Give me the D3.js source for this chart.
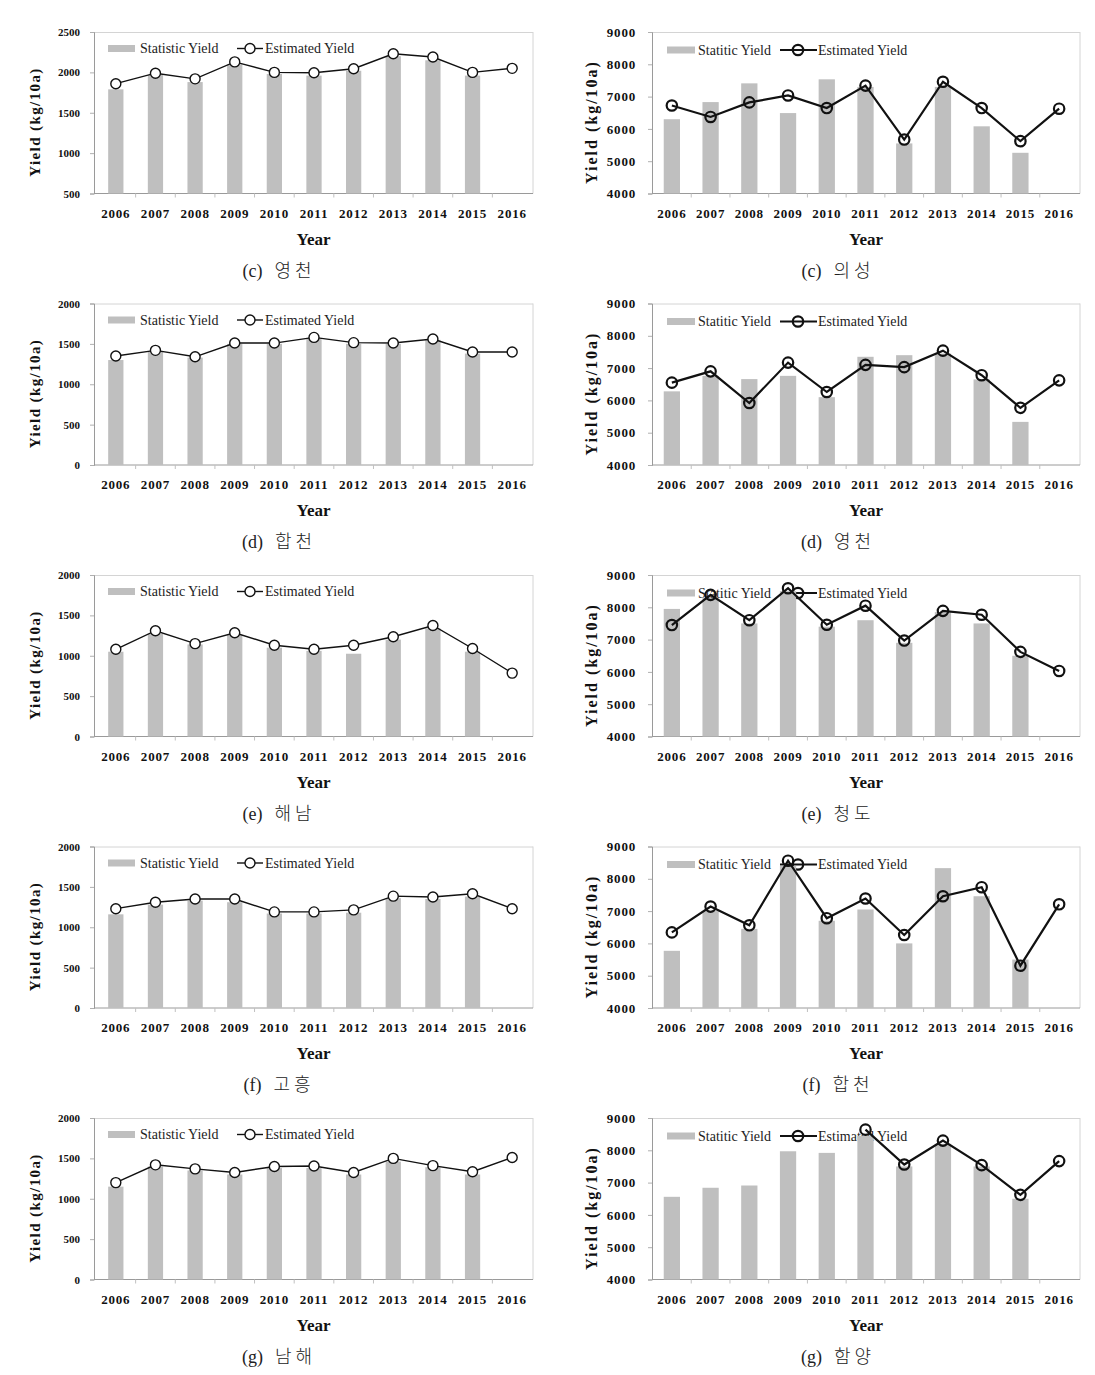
<!DOCTYPE html>
<html><head><meta charset="utf-8">
<script src="https://cdn.jsdelivr.net/npm/d3@7"></script>
<style>body{margin:0;background:#fff}</style>
</head><body>
<svg id="chart" width="1095" height="1375"></svg>
<script>
// ---------- data ----------
const years = ["2006","2007","2008","2009","2010","2011","2012","2013","2014","2015","2016"];

const ticksLeftTop = [500, 1000, 1500, 2000, 2500];
const ticksLeft = [0, 500, 1000, 1500, 2000];
const ticksRight = [4000, 5000, 6000, 7000, 8000, 9000];

const statC_Yeongcheon = [1790, 1970, 1880, 2100, 1980, 1960, 2020, 2200, 2150, 1960, null];
const estC_Yeongcheon  = [1860, 1990, 1920, 2130, 2000, 1995, 2045, 2230, 2190, 2000, 2050];
const statC_Uiseong = [6300, 6830, 7410, 6490, 7535, 7300, 5550, 7300, 6080, 5260, null];
const estC_Uiseong  = [6725, 6370, 6820, 7035, 6645, 7340, 5670, 7460, 6645, 5620, 6625];
const statD_Hapcheon = [1300, 1400, 1330, 1500, 1500, 1560, 1500, 1500, 1550, 1380, null];
const estD_Hapcheon  = [1350, 1420, 1340, 1510, 1510, 1580, 1515, 1510, 1560, 1400, 1400];
const statD_Yeongcheon = [6280, 6760, 6660, 6760, 6100, 7350, 7400, 7450, 6650, 5335, null];
const estD_Yeongcheon  = [6550, 6900, 5920, 7170, 6260, 7100, 7030, 7540, 6780, 5770, 6620];
const statE_Haenam = [1050, 1270, 1140, 1260, 1100, 1060, 1025, 1200, 1340, 1050, null];
const estE_Haenam  = [1080, 1310, 1150, 1285, 1130, 1080, 1130, 1235, 1375, 1090, 785];
const statE_Cheongdo = [7950, 8300, 7500, 8500, 7400, 7600, 6900, 7850, 7500, 6500, null];
const estE_Cheongdo  = [7450, 8385, 7600, 8590, 7460, 8050, 6970, 7890, 7770, 6620, 6030];
const statF_Goheung = [1160, 1280, 1330, 1310, 1170, 1170, 1180, 1360, 1350, 1380, null];
const estF_Goheung  = [1230, 1310, 1350, 1350, 1190, 1190, 1215, 1385, 1375, 1415, 1230];
const statF_Hapcheon = [5770, 7000, 6450, 8400, 6700, 7050, 6000, 8330, 7460, 5500, null];
const estF_Hapcheon  = [6340, 7140, 6560, 8560, 6780, 7390, 6260, 7460, 7740, 5310, 7210];
const statG_Namhae = [1150, 1400, 1350, 1300, 1380, 1380, 1300, 1460, 1390, 1300, null];
const estG_Namhae  = [1200, 1420, 1370, 1325, 1400, 1405, 1325, 1500, 1410, 1335, 1510];
const statG_Hamyang = [6560, 6840, 6910, 7970, 7920, 8450, 7500, 8200, 7500, 6500, null];
const estG_Hamyang  = [null, null, null, null, null, 8640, 7560, 8300, 7540, 6620, 7665];

const captionLetters = ["(c)", "(c)", "(d)", "(d)", "(e)", "(e)", "(f)", "(f)", "(g)", "(g)"];
const captionNames = ["영천", "의성", "합천", "영천", "해남", "청도", "고흥", "합천", "남해", "함양"];
const legendStatLeft = "Statistic Yield";
const legendStatRight = "Statitic Yield";
const legendEst = "Estimated Yield";
const yTitleLeft = "Yield  (kg/10a)";
const yTitleRight = "Yield (kg/10a)";
const xTitle = "Year";

// ---------- panels ----------
const series = [
  [statC_Yeongcheon, estC_Yeongcheon, ticksLeftTop],
  [statC_Uiseong,    estC_Uiseong,    ticksRight],
  [statD_Hapcheon,   estD_Hapcheon,   ticksLeft],
  [statD_Yeongcheon, estD_Yeongcheon, ticksRight],
  [statE_Haenam,     estE_Haenam,     ticksLeft],
  [statE_Cheongdo,   estE_Cheongdo,   ticksRight],
  [statF_Goheung,    estF_Goheung,    ticksLeft],
  [statF_Hapcheon,   estF_Hapcheon,   ticksRight],
  [statG_Namhae,     estG_Namhae,     ticksLeft],
  [statG_Hamyang,    estG_Hamyang,    ticksRight]
];
const panels = series.map((s, i) => ({row: Math.floor(i/2), col: i%2, stat: s[0], est: s[1], ticks: s[2],
  capL: captionLetters[i], capN: captionNames[i]}));

const colStyle = [
  {axisX:94, right:533, b0:96, b1:532, barRatio:0.385, tickFont:11, tickLs:0, tickPad:10,
   yTitle:yTitleLeft, yTitleX:34.5, yTitleFont:15, yTitleLs:1.4,
   leg:{rx:108, rw:27, tx:140, lx1:237, lx2:263, cx:250, ex:265, dy:16.5, label:legendStatLeft},
   fill:"#fff", lw:1.4, r:5, capX:279},
  {axisX:652, right:1080, b0:652.5, b1:1078.5, barRatio:0.42, tickFont:13, tickLs:0.8, tickPad:12,
   yTitle:yTitleRight, yTitleX:591, yTitleFont:16, yTitleLs:2,
   leg:{rx:667, rw:28, tx:698, lx1:780, lx2:817, cx:798, ex:818, dy:18, label:legendStatRight},
   fill:"none", lw:2.2, r:5.2, capX:838}
];

const serif = "'Liberation Serif','Times New Roman',serif";
const svg = d3.select("#chart");
svg.append("rect").attr("width",1095).attr("height",1375).attr("fill","#fff");

panels.forEach(p => {
  const c = colStyle[p.col];
  const top = 32 + p.row * 271.5;
  const bottom = top + 161.5;
  const g = svg.append("g");

  const x = d3.scaleBand().domain(years).range([c.b0, c.b1]).paddingInner(0).paddingOuter(0);
  const y = d3.scaleLinear().domain([p.ticks[0], p.ticks[p.ticks.length-1]]).range([bottom, top]);

  // frame
  g.append("line").attr("x1",c.axisX).attr("x2",c.right).attr("y1",top+0.5).attr("y2",top+0.5)
    .attr("stroke","#d4d4d4").attr("stroke-width",1);
  g.append("line").attr("x1",c.right).attr("x2",c.right).attr("y1",top).attr("y2",bottom)
    .attr("stroke","#d4d4d4").attr("stroke-width",1);

  // y axis
  const ya = g.append("g").attr("transform",`translate(${c.axisX},0)`)
    .call(d3.axisLeft(y).tickValues(p.ticks).tickSize(4).tickPadding(c.tickPad).tickFormat(d3.format("d")));
  ya.select(".domain").attr("stroke","#9a9a9a");
  ya.selectAll(".tick line").attr("stroke","#b0b0b0");
  ya.selectAll("text").attr("font-family",serif).attr("font-weight","bold")
    .attr("font-size",c.tickFont).attr("letter-spacing",c.tickLs).attr("fill","#111");

  // x axis
  const xa = g.append("g").attr("transform",`translate(0,${bottom})`)
    .call(d3.axisBottom(x).tickSize(0).tickPadding(15));
  xa.select(".domain").remove();
  xa.selectAll("text").attr("font-family",serif).attr("font-weight","bold")
    .attr("font-size",13).attr("letter-spacing",0.8).attr("fill","#111");
  g.append("line").attr("x1",c.axisX).attr("x2",c.right).attr("y1",bottom).attr("y2",bottom)
    .attr("stroke","#9a9a9a");
  g.selectAll(".btick").data(years.slice(1)).enter().append("line")
    .attr("x1",d=>x(d)).attr("x2",d=>x(d)).attr("y1",bottom).attr("y2",bottom+4)
    .attr("stroke","#c0c0c0");

  // titles
  g.append("text").attr("x",(c.axisX+c.right)/2).attr("y",bottom+51)
    .attr("text-anchor","middle").attr("font-family",serif).attr("font-weight","bold")
    .attr("font-size",17).attr("fill","#111").text(xTitle);
  g.append("text").attr("transform",`translate(${c.yTitleX},${top+90}) rotate(-90)`)
    .attr("dy","0.35em").attr("text-anchor","middle").attr("font-family",serif)
    .attr("font-weight","bold").attr("font-size",c.yTitleFont).attr("letter-spacing",c.yTitleLs)
    .attr("fill","#111").text(c.yTitle);
  const cap = g.append("text").attr("x",c.capX).attr("y",bottom+83).attr("text-anchor","middle")
    .attr("font-size",18).attr("fill","#222");
  cap.append("tspan").attr("font-family",serif).text(p.capL);
  cap.append("tspan").attr("dx",12).attr("font-family","'Noto Sans CJK KR',sans-serif")
    .attr("font-weight",300).attr("letter-spacing",4).text(p.capN);

  // legend
  const L = c.leg, ly = top + L.dy;
  g.append("rect").attr("x",L.rx).attr("y",ly-3.5).attr("width",L.rw).attr("height",7).attr("fill","#bfbfbf");
  g.append("text").attr("x",L.tx).attr("y",ly).attr("dy","0.33em").attr("font-family",serif)
    .attr("font-size",14).attr("fill","#222").text(L.label);
  g.append("line").attr("x1",L.lx1).attr("x2",L.lx2).attr("y1",ly).attr("y2",ly)
    .attr("stroke","#111").attr("stroke-width",c.lw);
  g.append("circle").attr("cx",L.cx).attr("cy",ly).attr("r",c.r).attr("fill",c.fill)
    .attr("stroke","#111").attr("stroke-width",c.lw);
  g.append("text").attr("x",L.ex).attr("y",ly).attr("dy","0.33em").attr("font-family",serif)
    .attr("font-size",14).attr("fill","#222").text(legendEst);

  // bars
  const bw = x.bandwidth() * c.barRatio;
  const statData = years.map((yr,i)=>({yr, v:p.stat[i]})).filter(d=>d.v!=null);
  g.selectAll(".bar").data(statData).enter().append("rect")
    .attr("x",d=>x(d.yr)+(x.bandwidth()-bw)/2).attr("width",bw)
    .attr("y",d=>y(d.v)).attr("height",d=>bottom-y(d.v)).attr("fill","#bfbfbf");

  // line
  const estData = years.map((yr,i)=>({yr, v:p.est[i]}));
  const line = d3.line().defined(d=>d.v!=null)
    .x(d=>x(d.yr)+x.bandwidth()/2).y(d=>y(d.v));
  g.append("path").datum(estData).attr("d",line).attr("fill","none")
    .attr("stroke","#111").attr("stroke-width",c.lw);
  g.selectAll(".pt").data(estData.filter(d=>d.v!=null)).enter().append("circle")
    .attr("cx",d=>x(d.yr)+x.bandwidth()/2).attr("cy",d=>y(d.v)).attr("r",c.r)
    .attr("fill",c.fill).attr("stroke","#111").attr("stroke-width",c.lw);
});
</script>
</body></html>
